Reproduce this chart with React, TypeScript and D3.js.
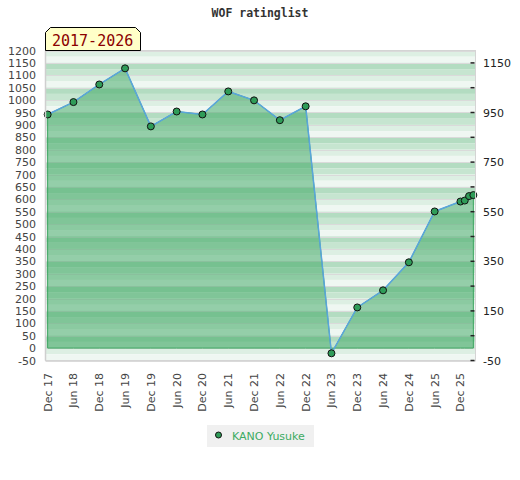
import * as d3 from 'd3';

// Months after Dec 2017 (half-yearly, then monthly in 2026)
const months = [0, 6, 12, 18, 24, 30, 36, 42, 48, 54, 60, 66, 72, 78, 84, 90, 96, 97, 98, 99];
const ratings = [942, 992, 1063, 1128, 894, 954, 942, 1035, 999, 919, 975, -21, 164, 233, 346, 551, 591, 595, 613, 617];

const tickMonths = [0, 6, 12, 18, 24, 30, 36, 42, 48, 54, 60, 66, 72, 78, 84, 90, 96];
const tickLabels = ['Dec 17', 'Jun 18', 'Dec 18', 'Jun 19', 'Dec 19', 'Jun 20', 'Dec 20', 'Jun 21', 'Dec 21',
  'Jun 22', 'Dec 22', 'Jun 23', 'Dec 23', 'Jun 24', 'Dec 24', 'Jun 25', 'Dec 25'];

const leftTicks = d3.range(-50, 1201, 50);
const rightMinor = d3.range(-50, 1151, 100);
const rightLabels = d3.range(-50, 1151, 200);

const W = 520;
const H = 480;
const plot = { left: 45.5, right: 475.5, top: 50.5, bottom: 360.5 };

export default function App() {
  const x = d3.scaleLinear([-0.5, 99.5], [plot.left, plot.right]);
  const y = d3.scaleLinear([-50, 1200], [plot.bottom, plot.top]);

  const pts = months.map((m, i) => ({ m, v: ratings[i] }));
  const area = d3.area<{ m: number; v: number }>().x(d => x(d.m)).y0(y(0)).y1(d => y(d.v));
  const line = d3.line<{ m: number; v: number }>().x(d => x(d.m)).y(d => y(d.v));

  // stripes every 25 units, 4-step pattern per 100
  const bands = d3.range(1200, -50, -25).map(t => {
    const r = ((t % 100) + 100) % 100;
    const color = r === 50 ? '#b3dcc1' : r === 25 ? '#c6e5d0' : r === 0 ? '#ddefe3' : '#eff7f2';
    return { t, color };
  });

  return (
    <div style={{ position: 'absolute', left: 0, top: 0 }}>
      <svg width={W} height={H} style={{ display: 'block', background: '#fff' }}>
        <text x={260} y={17} textAnchor="middle" fontFamily="DejaVu Sans Mono" fontWeight="bold"
          fontSize={11.5} fill="#333">WOF ratinglist</text>

        {bands.map(b => (
          <rect key={b.t} x={plot.left} width={plot.right - plot.left}
            y={y(b.t)} height={y(b.t - 25) - y(b.t)} fill={b.color} />
        ))}
        {leftTicks.map(t => (
          <line key={t} x1={plot.left} x2={plot.right} y1={Math.round(y(t)) + 0.5} y2={Math.round(y(t)) + 0.5}
            stroke="#dadada" strokeWidth={1} />
        ))}

        <path d={area(pts) ?? ''} fill="#3aa55f" fillOpacity={0.5} stroke="#3aa55f" strokeWidth={1} />
        <path d={line(pts) ?? ''} fill="none" stroke="#5aa5dc" strokeWidth={1.5} />
        {pts.map((d, i) => (
          <circle key={i} cx={x(d.m)} cy={y(d.v)} r={3.5} fill="#2f9c58" stroke="#111" strokeWidth={1} />
        ))}

        <rect x={plot.left} y={plot.top} width={plot.right - plot.left} height={plot.bottom - plot.top}
          fill="none" stroke="#d4d4d4" strokeWidth={1} />
        <line x1={plot.left} x2={plot.left} y1={plot.top} y2={plot.bottom} stroke="#cfcfcf" strokeWidth={1.5} />

        {leftTicks.map(t => (
          <text key={t} x={36} y={y(t) + 4} textAnchor="end" fontFamily="DejaVu Sans" fontSize={11} fill="#444">{t}</text>
        ))}

        {rightMinor.map(t => (
          <line key={t} x1={plot.right - 5} x2={plot.right - 1} y1={y(t)} y2={y(t)} stroke="#222" strokeWidth={1.5} />
        ))}
        {rightLabels.map(t => (
          <text key={t} x={483} y={y(t) + 4} fontFamily="DejaVu Sans" fontSize={11} fill="#222">{t}</text>
        ))}

        {tickMonths.map((m, i) => (
          <text key={m} transform={`translate(${x(m) + 4},373) rotate(-90)`} textAnchor="end"
            fontFamily="DejaVu Sans" fontSize={11} fill="#444">{tickLabels[i]}</text>
        ))}

        <path d="M45.5,50.5 L45.5,32.5 L50.5,27.5 L135.5,27.5 L140.5,32.5 L140.5,50.5 Z" fill="#ffffc8" stroke="#000" strokeWidth={1} />
        <text x={52} y={45.5} fontFamily="DejaVu Sans Mono" fontSize={15} fill="#8b0000">2017-2026</text>

        <rect x={207} y={425} width={107} height={22} fill="#f0f0f0" />
        <circle cx={218.5} cy={435} r={3} fill="#2f9c58" stroke="#111" strokeWidth={1} />
        <text x={232} y={439.5} fontFamily="DejaVu Sans" fontSize={11} fill="#3cab62">KANO Yusuke</text>
      </svg>
    </div>
  );
}
